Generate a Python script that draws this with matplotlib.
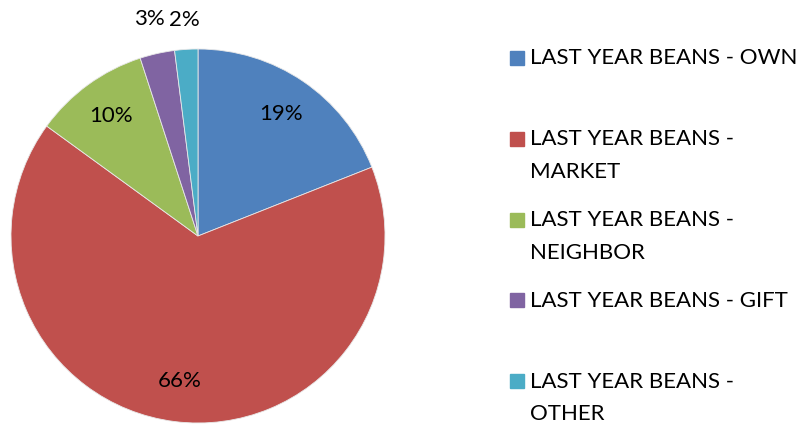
import matplotlib.pyplot as plt
import numpy as np
from matplotlib.patches import Rectangle

labels = ['LAST YEAR BEANS - OWN', 'LAST YEAR BEANS -\nMARKET', 'LAST YEAR BEANS -\nNEIGHBOR',
          'LAST YEAR BEANS - GIFT', 'LAST YEAR BEANS -\nOTHER']
values = [19, 66, 10, 3, 2]
colors = ['#4F81BD', '#C0504D', '#9BBB59', '#8064A2', '#4BACC6']
label_dist = [0.79, 0.78, 0.79, 1.19, 1.16]

plt.rcParams['font.family'] = ['Lato', 'DejaVu Sans']

fig = plt.figure(figsize=(8.03, 4.25), dpi=100)
ax = fig.add_axes([11 / 803, 2 / 425, 374 / 803, 374 / 425])
wedges, _ = ax.pie(values, colors=colors, startangle=90, counterclock=False,
                   wedgeprops=dict(edgecolor='#e8e8e8', linewidth=0.6))
ax.set_xlim(-1, 1)
ax.set_ylim(-1, 1)
ax.set_aspect('equal')

total = sum(values)
for w, v, d in zip(wedges, values, label_dist):
    ang = np.deg2rad((w.theta1 + w.theta2) / 2)
    ax.text(d * np.cos(ang), d * np.sin(ang), f'{round(100 * v / total)}%',
            ha='center', va='center', fontsize=16, color='black', clip_on=False)

# legend
y0 = 58
for i, (lab, c) in enumerate(zip(labels, colors)):
    y = y0 + i * 80.8
    fig.patches.append(Rectangle((510 / 803, 1 - (y + 7) / 425), 14 / 803, 14 / 425,
                                 transform=fig.transFigure, color=c))
    fig.text(530 / 803, 1 - (y - 9.5) / 425, lab, ha='left', va='top', fontsize=16,
             linespacing=1.78)

fig.savefig('out.png', dpi=100)
